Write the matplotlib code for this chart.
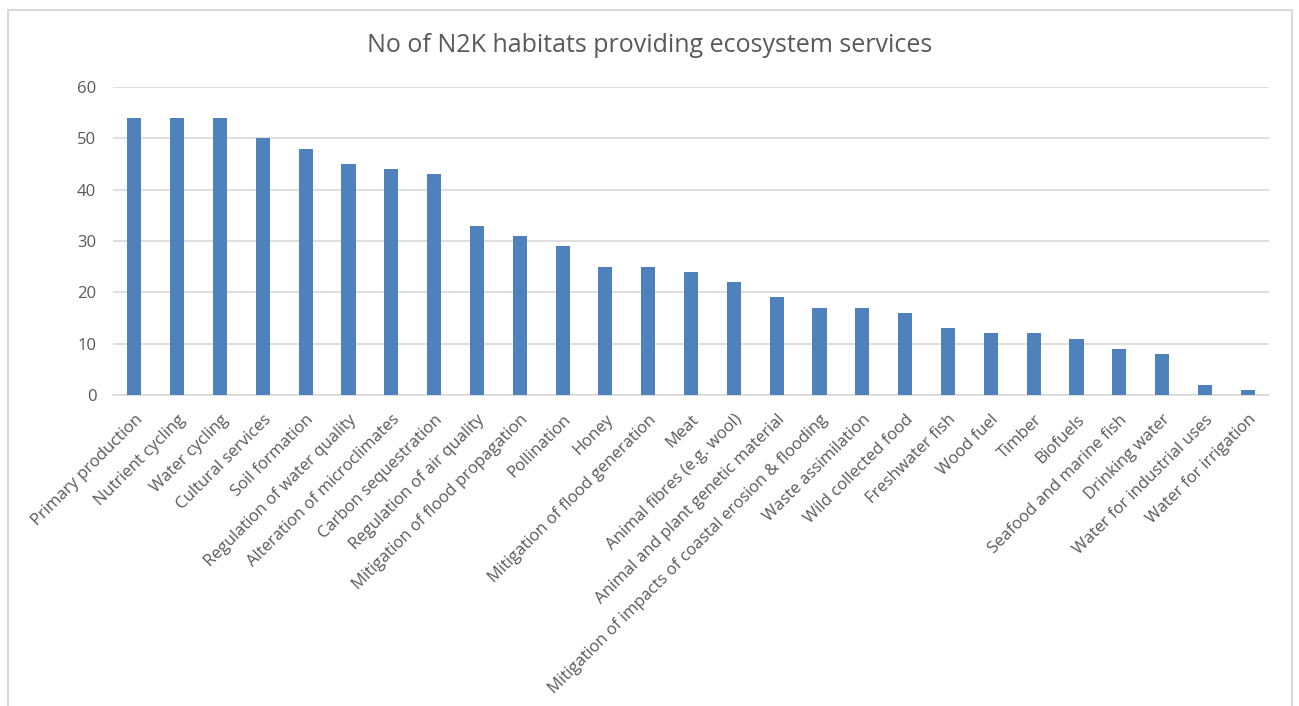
import matplotlib.pyplot as plt
from matplotlib.patches import Rectangle

plt.rcParams['font.family'] = ['Open Sans', 'DejaVu Sans']

services = ['Primary production', 'Nutrient cycling', 'Water cycling', 'Cultural services',
            'Soil formation', 'Regulation of water quality', 'Alteration of microclimates',
            'Carbon sequestration', 'Regulation of air quality', 'Mitigation of flood propagation',
            'Pollination', 'Honey', 'Mitigation of flood generation', 'Meat',
            'Animal fibres (e.g. wool)', 'Animal and plant genetic material',
            'Mitigation of impacts of coastal erosion & flooding', 'Waste assimilation',
            'Wild collected food', 'Freshwater fish', 'Wood fuel', 'Timber', 'Biofuels',
            'Seafood and marine fish', 'Drinking water', 'Water for industrial uses',
            'Water for irrigation']
n_habitats = [54, 54, 54, 50, 48, 45, 44, 43, 33, 31, 29, 25, 25, 24, 22, 19, 17, 17, 16,
              13, 12, 12, 11, 9, 8, 2, 1]
yticks = [0, 10, 20, 30, 40, 50, 60]

fig = plt.figure(figsize=(12.99, 7.06), dpi=100)
# chart frame
fig.patches.append(Rectangle((7.5 / 1299, -0.05), 1284 / 1299, 1 - 9.5 / 706 + 0.05,
                             transform=fig.transFigure, fill=False,
                             edgecolor='#D9D9D9', linewidth=1.5))

ax = fig.add_axes([0.087, 0.4405, 0.890, 0.4363])
x = range(len(services))
ax.bar(x, n_habitats, width=0.33, color='#4F81BD', zorder=3)

ax.set_ylim(0, 60)
ax.set_xlim(-0.5, 26.5)
ax.set_yticks(yticks)
ax.yaxis.grid(True, color='#D9D9D9', linewidth=1.2, zorder=0)
for s in ['top', 'right', 'left']:
    ax.spines[s].set_visible(False)
ax.spines['bottom'].set_color('#D9D9D9')
ax.spines['bottom'].set_linewidth(1.2)
ax.tick_params(axis='both', length=0, colors='#595959', labelsize=12)
ax.tick_params(axis='y', pad=12)

ax.set_xticks(list(x))
ax.set_xticklabels(services, rotation=45, ha='right', va='top', rotation_mode='anchor')
ax.tick_params(axis='x', pad=12)

fig.text(0.5, 0.935, 'No of N2K habitats providing ecosystem services', ha='center',
         va='center', fontsize=18, color='#595959')

plt.savefig('out.png', dpi=100)
